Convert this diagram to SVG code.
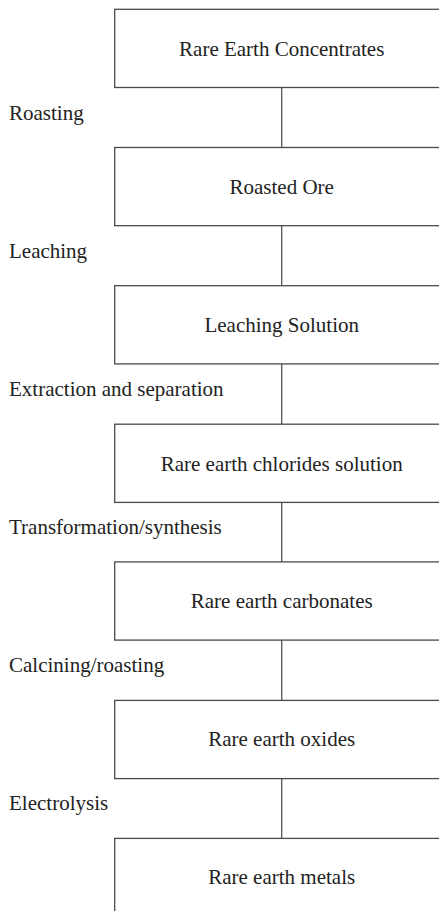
<svg xmlns="http://www.w3.org/2000/svg" width="439" height="911" viewBox="0 0 439 911">
<style>
.box{fill:#fff;stroke:#4a4a4a;stroke-width:1.3}
.conn{stroke:#555;stroke-width:1.3;fill:none}
text{font-family:'Liberation Serif','Times New Roman',Tinos,'DejaVu Serif',serif;font-size:21px;fill:#222}
.c{text-anchor:middle}
</style>
<rect width="439" height="911" fill="#fff"/>
<g id="connectors">
<line class="conn" x1="281.7" y1="87.5" x2="281.7" y2="147.5"/>
<line class="conn" x1="281.7" y1="225.7" x2="281.7" y2="285.7"/>
<line class="conn" x1="281.7" y1="363.9" x2="281.7" y2="424.2"/>
<line class="conn" x1="281.7" y1="502.4" x2="281.7" y2="561.9"/>
<line class="conn" x1="281.7" y1="640.1" x2="281.7" y2="700.4"/>
<line class="conn" x1="281.7" y1="778.6" x2="281.7" y2="838.4"/>
</g>
<g id="labels">
<text x="9" y="119.5">Roasting</text>
<text x="9" y="257.6">Leaching</text>
<text x="9" y="395.6">Extraction and separation</text>
<text x="9" y="533.6">Transformation/synthesis</text>
<text x="9" y="671.8">Calcining/roasting</text>
<text x="9" y="810">Electrolysis</text>
</g>
<g id="n1"><rect class="box" x="114.7" y="9.3" width="340" height="78.2"/><text class="c" x="281.7" y="55.6">Rare Earth Concentrates</text></g>
<g id="n2"><rect class="box" x="114.7" y="147.5" width="340" height="78.2"/><text class="c" x="281.7" y="193.6">Roasted Ore</text></g>
<g id="n3"><rect class="box" x="114.7" y="285.7" width="340" height="78.2"/><text class="c" x="281.7" y="331.8">Leaching Solution</text></g>
<g id="n4"><rect class="box" x="114.7" y="424.2" width="340" height="78.2"/><text class="c" x="281.7" y="471.2">Rare earth chlorides solution</text></g>
<g id="n5"><rect class="box" x="114.7" y="561.9" width="340" height="78.2"/><text class="c" x="281.7" y="608.4">Rare earth carbonates</text></g>
<g id="n6"><rect class="box" x="114.7" y="700.4" width="340" height="78.2"/><text class="c" x="281.7" y="745.6">Rare earth oxides</text></g>
<g id="n7"><rect class="box" x="114.7" y="838.4" width="340" height="78.2"/><text class="c" x="281.7" y="883.6">Rare earth metals</text></g>
</svg>
